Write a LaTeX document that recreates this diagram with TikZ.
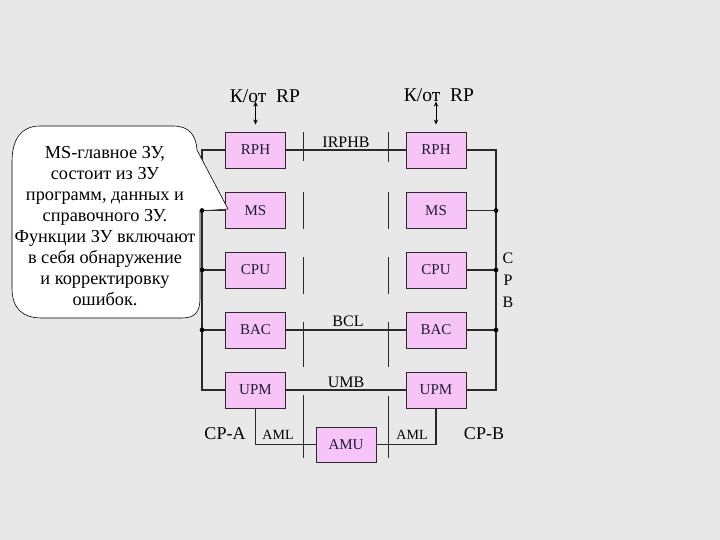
\documentclass[tikz,border=0pt]{standalone}
\usepackage{fontspec}
\setmainfont{Liberation Serif}
\usetikzlibrary{arrows.meta}
\definecolor{bgc}{HTML}{E8E8E8}
\definecolor{boxfill}{HTML}{F6C4F6}
\definecolor{boxtext}{HTML}{1E1A3C}
\definecolor{linec}{HTML}{2A2A2A}
\begin{document}
\begin{tikzpicture}[x=1pt,y=-1pt,
  unit/.style={draw=linec,line width=0.9pt,fill=boxfill,minimum width=60pt,minimum height=36pt,inner sep=0pt,text=boxtext,font=\fontsize{15}{17}\selectfont},
  bus/.style={draw=linec,line width=1.7pt},
  sep/.style={draw=linec,line width=0.9pt},
  lbl/.style={inner sep=0pt,text=black},
  jdot/.style={circle,draw=black,fill=black,line width=0.4pt,inner sep=0pt,minimum size=4.2pt},
  bubble/.style={draw=black,line width=0.6pt,fill=white},
  dart/.style={draw=black,line width=0.9pt,{Stealth[length=5pt,width=4.5pt]}-{Stealth[length=5pt,width=4.5pt]}}
]
\fill[bgc] (0,0) rectangle (720,540);
\path[use as bounding box] (0,0) rectangle (720,540);

% units
\node[unit] (RPHL) at (255.5,150) {RPH};
\node[unit] (MSL)  at (255.5,210.5) {MS};
\node[unit] (CPUL) at (255.5,270) {CPU};
\node[unit] (BACL) at (255.5,330) {BAC};
\node[unit] (UPML) at (255.5,390) {UPM};
\node[unit] (RPHR) at (436,150) {RPH};
\node[unit] (MSR)  at (436,210.5) {MS};
\node[unit] (CPUR) at (436,270) {CPU};
\node[unit] (BACR) at (436,330) {BAC};
\node[unit] (UPMR) at (436,390) {UPM};
\node[unit,minimum height=35pt] (AMU) at (346,444.5) {AMU};

% separators (dashed lines)
\draw[sep] (303.5,132) -- (303.5,161) (303.5,192) -- (303.5,229) (303.5,257) -- (303.5,294)
           (303.5,322) -- (303.5,367) (303.5,395) -- (303.5,458);
\draw[sep] (388,132) -- (388,162) (388,192) -- (388,229) (388,257) -- (388,294)
           (388,322) -- (388,367) (388,396) -- (388,458);

% inter-CP buses
\draw[bus] (RPHL.east) -- (RPHR.west);
\draw[bus] (BACL.east) -- (BACR.west);
\draw[bus] (UPML.east) -- (UPMR.west);
\draw[bus] (UPML.south) |- (AMU.west);
\draw[bus] (UPMR.south) |- (AMU.east);

% left internal bus
\coordinate (lbus) at (202,150);
\draw[bus] (RPHL.west) -- (lbus) |- (UPML.west);
\draw[bus] (CPUL.west) -- (CPUL.west -| lbus);
\draw[bus] (BACL.west) -- (BACL.west -| lbus);
\node[jdot] (jl2) at (CPUL.west -| lbus) {};
\node[jdot] (jl3) at (BACL.west -| lbus) {};

% right internal bus
\coordinate (rbus) at (496,150);
\draw[bus] (RPHR.east) -- (rbus) |- (UPMR.east);
\draw[bus] (MSR.east) -- (MSR.east -| rbus);
\draw[bus] (CPUR.east) -- (CPUR.east -| rbus);
\draw[bus] (BACR.east) -- (BACR.east -| rbus);
\node[jdot] (jr1) at (MSR.east -| rbus) {};
\node[jdot] (jr2) at (CPUR.east -| rbus) {};
\node[jdot] (jr3) at (BACR.east -| rbus) {};

% labels
\node[lbl,font=\fontsize{16}{18}\selectfont] (irphb) at (346,142) {IRPHB};
\node[lbl,font=\fontsize{16}{18}\selectfont] (bcl) at (348,321) {BCL};
\node[lbl,font=\fontsize{16}{18}\selectfont] (umb) at (346,382) {UMB};
\node[lbl,font=\fontsize{14}{16}\selectfont] (amll) at (278,435) {AML};
\node[lbl,font=\fontsize{14}{16}\selectfont] (amlr) at (412,435) {AML};
\node[lbl,font=\fontsize{18}{20}\selectfont] (cpa) at (225,434) {CP-A};
\node[lbl,font=\fontsize{18}{20}\selectfont] (cpb) at (484,434) {CP-B};
\node[lbl,font=\fontsize{16}{22}\selectfont,align=center] (cpbv) at (508,280) {C\\P\\B};

% top links
\node[lbl,font=\fontsize{19.5}{21}\selectfont] (kl) at (265,96) {К/от\ \ RP};
\node[lbl,font=\fontsize{19.5}{21}\selectfont] (kr) at (439,95) {К/от\ \ RP};
\draw[dart] ([yshift=7pt]RPHL.north) -- ++(0,-23);
\draw[dart] ([yshift=7pt]RPHR.north) -- ++(0,-23);

% callout
\draw[bubble] (40,126) -- (173,126) .. controls (190,126) and (196,136) .. (197,150)
  -- (228,209) -- (200,211) -- (200,298) .. controls (200,312) and (195,318) .. (182,318)
  -- (42,318) .. controls (22,318) and (12,308) .. (12,288) -- (12,162)
  .. controls (12,138) and (22,126) .. (40,126) -- cycle;
\node[lbl,align=center,font=\fontsize{18.3}{21}\selectfont] (note) at (105,226)
  {MS-главное ЗУ,\\ состоит из ЗУ\\ программ, данных и\\ справочного ЗУ.\\ Функции ЗУ включают\\ в себя обнаружение\\ и корректировку\\ ошибок.};

% MS branch of the left bus, drawn over the callout tail
\draw[bus] (MSL.west) -- (MSL.west -| lbus) -- ([yshift=-4pt]MSL.west -| lbus);
\node[jdot] (jl1) at (MSL.west -| lbus) {};
\end{tikzpicture}
\end{document}
